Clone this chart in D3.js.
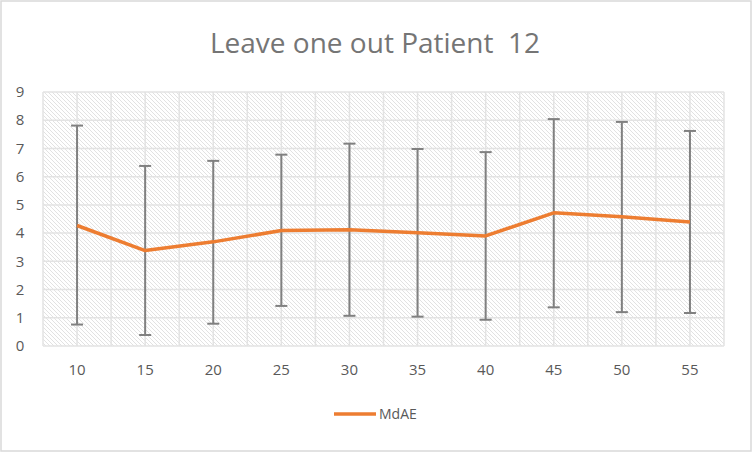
<!DOCTYPE html>
<html><head><meta charset="utf-8">
<script src="https://cdn.jsdelivr.net/npm/d3@7"></script>
<style>body{margin:0;background:#fff}svg{display:block}</style>
</head><body><svg id="c" width="752" height="452"></svg>
<script>
const categories = ["10","15","20","25","30","35","40","45","50","55"];
const mdae = [4.27, 3.38, 3.69, 4.09, 4.12, 4.01, 3.90, 4.72, 4.58, 4.39];
const upper = [7.81, 6.38, 6.56, 6.78, 7.17, 6.98, 6.87, 8.04, 7.94, 7.62];
const lower = [0.76, 0.39, 0.79, 1.42, 1.07, 1.04, 0.93, 1.37, 1.20, 1.17];
const yTicks = [0,1,2,3,4,5,6,7,8,9];
const title = "Leave one out Patient  12";
const seriesName = "MdAE";

const svg = d3.select("#c");
const font = "'Open Sans', Lato, sans-serif";
const L = 43, R = 724, T = 92, B = 346;

svg.append("rect").attr("x",1).attr("y",1).attr("width",750).attr("height",450)
  .attr("fill","#fff").attr("stroke","#d9d9d9").attr("stroke-width",1.5);

const defs = svg.append("defs");
const pat = defs.append("pattern").attr("id","hatch").attr("patternUnits","userSpaceOnUse")
  .attr("width",4).attr("height",4);
pat.append("rect").attr("width",4).attr("height",4).attr("fill","#fff");
pat.append("path").attr("d","M-1,-1L5,5M-1,3L1,5M3,-1L5,1").attr("stroke","#dadada").attr("stroke-width",0.8);

const x = d3.scaleBand().domain(categories).range([L,R]);
const y = d3.scaleLinear().domain([0,9]).range([B,T]);
const cx = d => x(d) + x.bandwidth()/2;

svg.append("rect").attr("x",L).attr("y",T).attr("width",R-L).attr("height",B-T).attr("fill","url(#hatch)");

// horizontal gridlines
svg.append("g").selectAll("line").data(yTicks).join("line")
  .attr("x1",L).attr("x2",R).attr("y1",d=>y(d)).attr("y2",d=>y(d))
  .attr("stroke","#e3e3e3").attr("stroke-width",1.5);
// vertical gridlines at centers and boundaries
const vx = [];
categories.forEach(c => { vx.push(x(c)); vx.push(cx(c)); });
vx.push(R);
svg.append("g").selectAll("line").data(vx).join("line")
  .attr("x1",d=>d).attr("x2",d=>d).attr("y1",T).attr("y2",B)
  .attr("stroke","#e3e3e3").attr("stroke-width",1.5);

// y axis labels
svg.append("g").selectAll("text").data(yTicks).join("text")
  .attr("x",20).attr("y",d=>y(d)).attr("dy","0.35em").attr("text-anchor","middle")
  .attr("font-family",font).attr("font-size",15).attr("fill","#595959").text(d=>d);
// x axis labels
svg.append("g").selectAll("text").data(categories).join("text")
  .attr("x",d=>cx(d)).attr("y",370).attr("dy","0.35em").attr("text-anchor","middle")
  .attr("font-family",font).attr("font-size",15).attr("fill","#595959").text(d=>d);

// error bars
const eb = svg.append("g").attr("stroke","#808080").attr("stroke-width",2);
categories.forEach((c,i) => {
  eb.append("line").attr("x1",cx(c)).attr("x2",cx(c)).attr("y1",y(upper[i])).attr("y2",y(lower[i]));
  eb.append("line").attr("x1",cx(c)-6).attr("x2",cx(c)+6).attr("y1",y(upper[i])).attr("y2",y(upper[i]));
  eb.append("line").attr("x1",cx(c)-6).attr("x2",cx(c)+6).attr("y1",y(lower[i])).attr("y2",y(lower[i]));
});

// line
svg.append("path").datum(mdae)
  .attr("d", d3.line().x((d,i)=>cx(categories[i])).y(d=>y(d)))
  .attr("fill","none").attr("stroke","#ed7d31").attr("stroke-width",3.5).attr("stroke-linejoin","round");

// title
svg.append("text").attr("x",375).attr("y",53).attr("text-anchor","middle")
  .attr("font-family",font).attr("font-size",28).attr("fill","#757575")
  .attr("xml:space","preserve").style("white-space","pre").text(title);

// legend
svg.append("line").attr("x1",334).attr("x2",376).attr("y1",414).attr("y2",414)
  .attr("stroke","#ed7d31").attr("stroke-width",3.5);
svg.append("text").attr("x",379).attr("y",414).attr("dy","0.36em")
  .attr("font-family",font).attr("font-size",14).attr("fill","#595959").text(seriesName);
</script></body></html>
